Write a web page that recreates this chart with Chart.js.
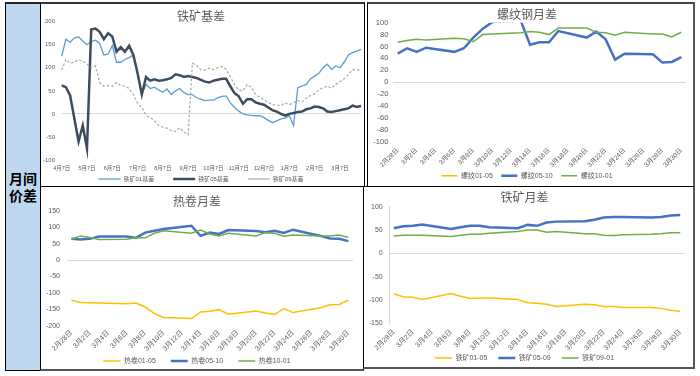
<!DOCTYPE html>
<html>
<head>
<meta charset="utf-8">
<script src="https://cdn.jsdelivr.net/npm/chart.js@4.4.1/dist/chart.umd.min.js"></script>
<style>
html,body{margin:0;padding:0;background:#fff;width:700px;height:376px;overflow:hidden;font-family:"Noto Sans CJK SC",sans-serif;}
.box{position:absolute;box-sizing:border-box;border:1px solid #000;background:#fff;}
.inner{position:absolute;left:0;top:0;}
.side{background:#bdd7ee;}
.lbl{position:absolute;left:0;width:100%;text-align:center;font-weight:bold;font-size:14px;line-height:17px;color:#000;}
</style>
</head>
<body>
<div class="box side" style="left:5px;top:2px;width:36px;height:369px;border-top:2px solid #222;">
  <div class="lbl" style="top:166px;">月间<br>价差</div>
</div>
<div class="box" style="left:40px;top:2px;width:325px;height:185px;border-top:2px solid #333;">
  <div class="inner" style="width:323px;height:182px;"><canvas id="c1"></canvas></div>
</div>
<div class="box" style="left:367px;top:2px;width:328px;height:185px;border-top:2px solid #444;border-right:2px solid #555;">
  <div class="inner" style="width:325px;height:182px;"><canvas id="c2"></canvas></div>
</div>
<div class="box" style="left:40px;top:186px;width:324px;height:185px;border-bottom:2px solid #555;">
  <div class="inner" style="width:322px;height:182px;"><canvas id="c3"></canvas></div>
</div>
<div class="box" style="left:363px;top:186px;width:332px;height:183px;border-right:2px solid #555;border-bottom:2px solid #555;">
  <div class="inner" style="width:329px;height:180px;"><canvas id="c4"></canvas></div>
</div>

<script>
// ---------- DATA ----------
// Chart 1: 铁矿基差 (sampled dates, April to next April)
const basisDates = [
 "4月7日","4月12日","4月17日","4月22日","4月27日","5月2日",
 "5月7日","5月12日","5月17日","5月22日","5月27日","6月2日",
 "6月7日","6月12日","6月17日","6月22日","6月27日","7月2日",
 "7月7日","7月12日","7月17日","7月22日","7月27日","8月2日",
 "8月7日","8月12日","8月17日","8月22日","8月27日","9月2日",
 "9月7日","9月12日","9月17日","9月22日","9月27日","10月2日",
 "10月7日","10月12日","10月17日","10月22日","10月27日","11月2日",
 "11月7日","11月12日","11月17日","11月22日","11月27日","12月2日",
 "12月7日","12月12日","12月17日","12月22日","12月27日","1月2日",
 "1月7日","1月12日","1月17日","1月22日","1月27日","2月2日",
 "2月7日","2月12日","2月17日","2月22日","2月27日","3月2日",
 "3月7日","3月12日","3月17日","3月22日","3月27日","4月1日"
];
const ore01Basis = [125,162,155,165,167,158,150,157,160,153,128,130,148,112,112,118,122,128,88,42,64,55,58,52,47,54,42,50,55,46,42,42,35,32,29,30,30,35,38,39,24,14,6,0,-2,-3,-4,-4,-8,-14,-19,-15,-11,-9,-4,-25,57,60,64,76,82,88,100,108,96,104,100,112,128,133,136,140];
const ore05Basis = [62,58,40,-10,-60,-25,-75,183,185,178,162,175,168,135,145,135,148,128,88,42,80,72,75,72,73,75,78,86,84,80,82,80,78,74,70,68,72,74,76,76,60,45,38,22,32,32,25,22,20,14,8,5,0,-4,0,2,4,5,10,12,16,15,12,5,4,6,8,10,12,18,15,17];
const ore09Basis = [95,118,110,112,118,115,108,100,104,68,60,62,60,68,62,60,55,42,22,14,-3,-8,-15,-25,-29,-31,-36,-38,-30,-40,-45,110,105,96,95,99,96,100,103,97,80,64,52,50,64,58,42,36,30,25,20,19,18,24,20,24,29,26,34,40,44,52,57,60,56,64,70,76,85,96,95,96];
const basisTicks = [-100,-50,0,50,100,150,200];

// Charts 2-4: daily dates 2月28日 - 3月30日 (null = weekend)
const spreadDates = ["2月28日","3月1日","3月2日","3月3日","3月4日","3月5日","3月6日","3月7日","3月8日","3月9日","3月10日","3月11日","3月12日","3月13日","3月14日","3月15日","3月16日","3月17日","3月18日","3月19日","3月20日","3月21日","3月22日","3月23日","3月24日","3月25日","3月26日","3月27日","3月28日","3月29日","3月30日"];

// 螺纹钢月差
const rebar0105 = [];
const rebar0510 = [48,57,51,58,null,null,51,57,75,90,101,null,null,104,63,67,67,86,null,null,75,85,72,38,48,null,null,47,33,34,42];
const rebar1001 = [67,70,72,71,null,null,74,73,68,80,81,null,null,83,85,84,80,91,null,null,91,84,83,79,84,null,null,81,81,76,84];
const rebarTicks = [-100,-80,-60,-40,-20,0,20,40,60,80,100];

// 热卷月差
const hrc0105 = [-122,-129,-130,-131,null,null,-133,-131,-143,-163,-175,null,null,-178,-158,-156,-151,-165,null,null,-155,-161,-166,-148,-160,null,null,-145,-136,-135,-122];
const hrc0510 = [65,63,65,72,null,null,72,68,84,90,95,null,null,105,74,84,80,92,null,null,89,85,90,83,93,null,null,74,66,65,58];
const hrc1001 = [64,74,69,63,null,null,64,68,68,82,90,null,null,82,92,80,74,82,null,null,74,84,82,73,77,null,null,74,74,77,69];
const hrcTicks = [-200,-150,-100,-50,0,50,100,150];

// 铁矿月差
const ore0105 = [-87,-93,-94,-99,null,null,-86,-92,-97,-96,-96,null,null,-99,-106,-107,-109,-114,null,null,-109,-110,-114,-114,-116,null,null,-116,-118,-122,-124];
const ore0509 = [54,58,59,62,null,null,52,56,59,59,56,null,null,54,61,59,66,68,null,null,69,72,77,78,78,null,null,77,78,81,82];
const ore0901 = [37,39,39,39,null,null,36,39,41,41,43,null,null,47,50,50,45,47,null,null,42,42,39,38,40,null,null,41,42,44,44];
const oreSpreadTicks = [-150,-100,-50,0,50,100];

// ---------- STYLE / HELPERS ----------
const TXT = '#595959';
const YELLOW = '#ffc000', BLUE = '#4472c4', GREEN = '#70ad47';
Chart.defaults.font.family = '"Liberation Sans", "Noto Sans CJK SC", sans-serif';
Chart.defaults.color = TXT;
Chart.defaults.animation = false;

const legendPos = {
  id: 'legendPos',
  afterLayout(chart, args, o) {
    const L = chart.legend;
    if (!L || o.center == null) return;
    const h = o.pad + o.size + 10;
    const top = o.center - o.pad - o.size / 2;
    L.top = top; L.bottom = top + h; L.height = h;
  }
};
Chart.register(legendPos);

function ds(label, data, color, width, order, dash) {
  return { label, data, borderColor: color, backgroundColor: color, borderWidth: width,
    pointRadius: 0, pointHoverRadius: 0, tension: 0, spanGaps: true, order, borderDash: dash || [] };
}

function yAxis(tickVals, width, pad, fs, border) {
  return {
    min: tickVals[0], max: tickVals[tickVals.length - 1],
    afterBuildTicks: s => { s.ticks = tickVals.map(v => ({ value: v })); },
    ticks: { autoSkip: false, padding: pad, font: { size: fs }, color: TXT },
    grid: { drawTicks: false, color: c => (c.tick && c.tick.value === 0) ? '#d9d9d9' : 'rgba(0,0,0,0)' },
    border: { display: !!border, color: '#d9d9d9' },
    afterFit: s => { s.width = width; }
  };
}

function xAxis(o) {
  return {
    type: 'category', offset: o.offset,
    grid: { display: true, drawOnChartArea: false, drawTicks: true, tickLength: o.tl, color: 'rgba(0,0,0,0)' },
    border: { display: false },
    ticks: { autoSkip: false, minRotation: o.rot, maxRotation: o.rot, padding: 2,
      font: { size: o.fs }, color: TXT, callback: o.cb },
    afterFit: s => { s.height = o.h; }
  };
}

function legendOpts(fs, pad, psw) {
  return { position: 'bottom', maxHeight: 10,
    labels: { usePointStyle: true, pointStyle: 'line', pointStyleWidth: psw, boxHeight: fs,
      padding: pad, font: { size: fs }, color: TXT, sort: (a, b) => a.datasetIndex - b.datasetIndex } };
}

function titleOpts(text, pt, pb) {
  return { display: true, text, color: TXT,
    font: { size: 12, weight: 'normal', family: '"Noto Sans CJK SC", sans-serif', lineHeight: 1.2 },
    padding: { top: pt, bottom: pb } };
}

const everyOther = function (v, i) { return i % 2 === 0 ? this.getLabelForValue(v) : ''; };
const monthSeventh = function (v) { const l = this.getLabelForValue(v); return l.endsWith('月7日') ? l : ''; };

function make(id, cfg) {
  return new Chart(document.getElementById(id), {
    type: 'line',
    data: { labels: cfg.labels, datasets: cfg.datasets },
    options: {
      responsive: true, maintainAspectRatio: false, devicePixelRatio: 1,
      layout: { padding: { left: 0, right: cfg.padRight, top: 0, bottom: 0 } },
      scales: { x: cfg.x, y: cfg.y },
      plugins: {
        title: cfg.title,
        legend: cfg.legend,
        legendPos: cfg.legendPos,
        tooltip: { enabled: false }
      }
    }
  });
}

// Chart 1
make('c1', {
  labels: basisDates,
  datasets: [
    ds('铁矿01基差', ore01Basis, '#5b9bd5', 1.3, 3),
    ds('铁矿05基差', ore05Basis, '#3e4c60', 2.5, 2),
    ds('铁矿09基差', ore09Basis, '#a6a6a6', 1.2, 1, [2.5, 2])
  ],
  padRight: 3,
  title: titleOpts('铁矿基差', 4.8, -1.5),
  y: yAxis(basisTicks, 20.7, 6.7, 6),
  x: xAxis({ offset: false, rot: 0, fs: 5.5, tl: 3, h: 16, cb: monthSeventh }),
  legend: legendOpts(6, 19, 22),
  legendPos: { center: 175, pad: 19, size: 6 }
});

// Chart 2
make('c2', {
  labels: spreadDates,
  datasets: [
    ds('螺纹01-05', rebar0105, YELLOW, 1.5, 3),
    ds('螺纹05-10', rebar0510, BLUE, 2.5, 2),
    ds('螺纹10-01', rebar1001, GREEN, 1.5, 1)
  ],
  padRight: 7,
  title: titleOpts('螺纹钢月差', 3.3, 1),
  y: yAxis(rebarTicks, 25, 4.7, 7.5),
  x: xAxis({ offset: true, rot: 45, fs: 6.5, tl: 3, h: 34.3, cb: everyOther }),
  legend: legendOpts(7, 8.5, 16),
  legendPos: { center: 171.7, pad: 8.5, size: 7 }
});

// Chart 3
make('c3', {
  labels: spreadDates,
  datasets: [
    ds('热卷01-05', hrc0105, YELLOW, 1.5, 3),
    ds('热卷05-10', hrc0510, BLUE, 2.5, 2),
    ds('热卷10-01', hrc1001, GREEN, 1.5, 1)
  ],
  padRight: 10,
  title: titleOpts('热卷月差', 6.8, 2.8),
  y: yAxis(hrcTicks, 25.7, 6.7, 7),
  x: xAxis({ offset: true, rot: 45, fs: 7, tl: 1, h: 33.3, cb: everyOther }),
  legend: legendOpts(7, 15, 17),
  legendPos: { center: 174, pad: 15, size: 7 }
});

// Chart 4
make('c4', {
  labels: spreadDates,
  datasets: [
    ds('铁矿01-05', ore0105, YELLOW, 1.5, 3),
    ds('铁矿05-09', ore0509, BLUE, 2.5, 2),
    ds('铁矿09-01', ore0901, GREEN, 1.5, 1)
  ],
  padRight: 8,
  title: titleOpts('铁矿月差', 3.6, 1.7),
  y: yAxis(oreSpreadTicks, 25, 6.3, 7, true),
  x: xAxis({ offset: true, rot: 45, fs: 7, tl: 2.7, h: 33.7, cb: everyOther }),
  legend: legendOpts(7, 11, 17),
  legendPos: { center: 171, pad: 11, size: 7 }
});
</script>
</body>
</html>
